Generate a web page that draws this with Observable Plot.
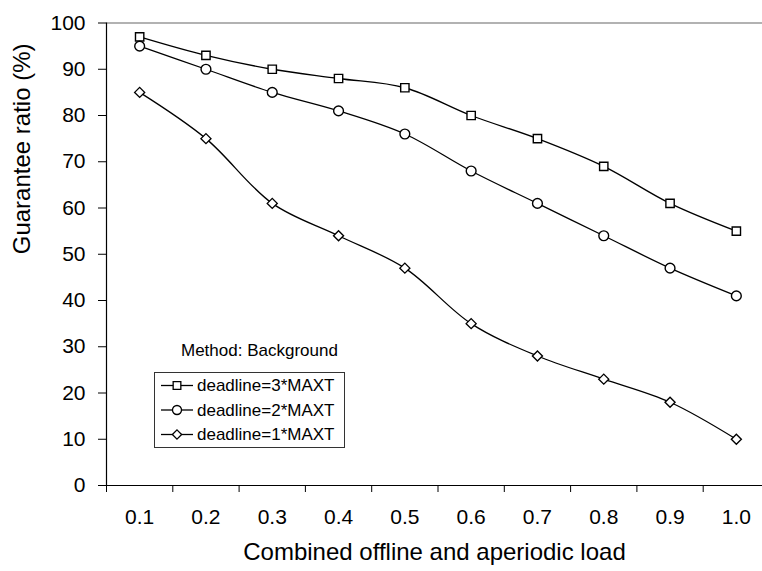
<!DOCTYPE html>
<html>
<head>
<meta charset="utf-8">
<script src="https://cdn.jsdelivr.net/npm/d3@7"></script>
<script src="https://cdn.jsdelivr.net/npm/@observablehq/plot@0.6"></script>
<style>
  body { margin: 0; background: #fff; overflow: hidden; }
  #chart { width: 762px; height: 571px; }
</style>
</head>
<body>
<div id="chart"></div>
<script>
// ---- data ----
const loads = [0.1, 0.2, 0.3, 0.4, 0.5, 0.6, 0.7, 0.8, 0.9, 1.0];
const deadline3 = [97, 93, 90, 88, 86, 80, 75, 69, 61, 55];
const deadline2 = [95, 90, 85, 81, 76, 68, 61, 54, 47, 41];
const deadline1 = [85, 75, 61, 54, 47, 35, 28, 23, 18, 10];
const seriesNames = ["deadline=3*MAXT", "deadline=2*MAXT", "deadline=1*MAXT"];
const yTicks = [0, 10, 20, 30, 40, 50, 60, 70, 80, 90, 100];
const xTitle = "Combined offline and aperiodic load";
const yTitle = "Guarantee ratio (%)";
const legendTitle = "Method: Background";

// ---- build ----
const diamond = d3.symbolDiamond2 || {
  draw(ctx, size) { const r = Math.sqrt(size) * 0.62625; ctx.moveTo(0, -r); ctx.lineTo(r, 0); ctx.lineTo(0, r); ctx.lineTo(-r, 0); ctx.closePath(); }
};
const series = [
  {name: seriesNames[0], values: deadline3, symbol: d3.symbolSquare, r: 4.7},
  {name: seriesNames[1], values: deadline2, symbol: d3.symbolCircle, r: 4.9},
  {name: seriesNames[2], values: deadline1, symbol: diamond, r: 4.5}
];
const half = (loads[1] - loads[0]) / 2;
const xmin = loads[0] - half, xmax = loads[loads.length - 1] + half;
const boundaries = loads.map(d => +(d - half).toFixed(3));
const fmt = d3.format(".1f");
const font = 'Arial, "Liberation Sans", sans-serif';

const marks = [
  Plot.ruleY([100], {stroke: "#666", strokeWidth: 1.2}),
  Plot.ruleY([0], {stroke: "#000", strokeWidth: 1.2}),
  Plot.ruleX([xmin], {stroke: "#000", strokeWidth: 1.2})
];
for (const s of series) {
  const rows = s.values.map((v, i) => ({load: loads[i], value: v}));
  marks.push(Plot.line(rows, {x: "load", y: "value", curve: "catmull-rom", stroke: "#000", strokeWidth: 1.3}));
  marks.push(Plot.dot(rows, {x: "load", y: "value", symbol: s.symbol, r: s.r, fill: "#fff", stroke: "#000", strokeWidth: 1.4}));
}
marks.push(Plot.text(loads, {x: d => d, frameAnchor: "bottom", dy: 38, text: d => fmt(d), fontSize: 21, fill: "#000"}));
marks.push(Plot.text([xTitle], {frameAnchor: "bottom", dy: 74, fontSize: 24, fill: "#000"}));
marks.push(Plot.text([yTitle], {frameAnchor: "left", dx: -84, rotate: -90, fontSize: 24, fill: "#000"}));

const svg = Plot.plot({
  width: 762,
  height: 571,
  marginLeft: 106,
  marginRight: 0,
  marginTop: 22.5,
  marginBottom: 86,
  style: {fontFamily: font, fontSize: "21px", color: "#000", background: "#fff", overflow: "visible"},
  x: {type: "linear", domain: [xmin, xmax], range: [106, 769], ticks: boundaries, tickSize: 7, tickFormat: () => "", label: null},
  y: {domain: [0, 100], ticks: yTicks, tickSize: 8, tickPadding: 13, label: null},
  marks
});
document.getElementById("chart").appendChild(svg);

// ---- legend (annotation) ----
const g = d3.select(svg).append("g").attr("font-family", font).attr("fill", "#000").attr("text-anchor", "start");
g.append("text").attr("x", 181).attr("y", 356).attr("font-size", 17).attr("text-anchor", "start").text(legendTitle);
g.append("rect").attr("x", 154.5).attr("y", 372.5).attr("width", 190).attr("height", 75)
  .attr("fill", "#fff").attr("stroke", "#333").attr("stroke-width", 1);
series.forEach((s, i) => {
  const cy = 385.5 + i * 24.5;
  g.append("line").attr("x1", 161).attr("x2", 193).attr("y1", cy).attr("y2", cy).attr("stroke", "#000").attr("stroke-width", 1.3);
  g.append("path").attr("transform", `translate(177,${cy})`)
    .attr("d", d3.symbol(s.symbol, Math.PI * s.r * s.r * 0.85)())
    .attr("fill", "#fff").attr("stroke", "#000").attr("stroke-width", 1.3);
  g.append("text").attr("x", 197).attr("y", cy).attr("dy", "0.35em").attr("font-size", 17).attr("text-anchor", "start").text(s.name);
});
</script>
</body>
</html>
